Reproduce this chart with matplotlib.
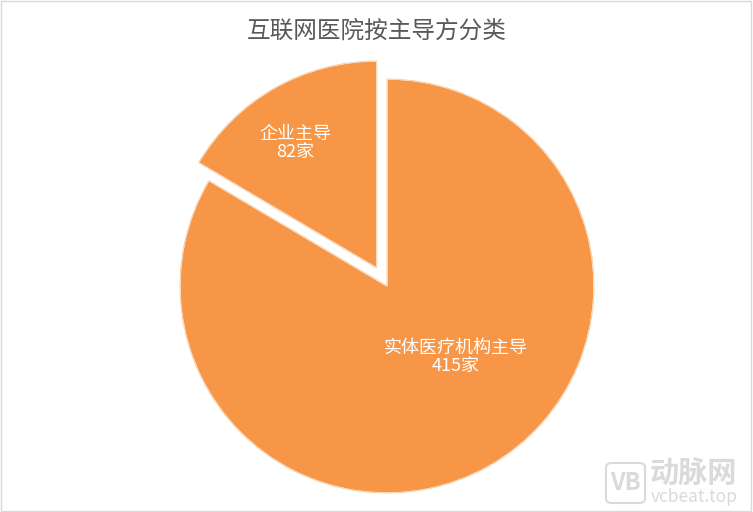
import matplotlib
matplotlib.use('Agg')
import matplotlib.pyplot as plt
from matplotlib.patches import FancyBboxPatch

plt.rcParams['font.family'] = ['Noto Sans CJK SC', 'DejaVu Sans']

title = '互联网医院按主导方分类'
names = ['实体医疗机构主导', '企业主导']
counts = [415, 82]
explode = [0, 0.1]
label_pos = [(0.33, -0.345), (-0.445, 0.69)]

fig = plt.figure(figsize=(7.53, 5.12), dpi=100)
W, H = 753, 512
cx, cy, r = 387, 286, 207
ax = fig.add_axes([(cx - r) / W, (H - cy - r) / H, 2 * r / W, 2 * r / H])

wedges, _ = ax.pie(counts, startangle=90, counterclock=False, explode=explode,
                   colors=['#F79646', '#F79646'],
                   wedgeprops=dict(edgecolor='#FBD3B1', linewidth=2.2))
for w in wedges:
    w.set_edgecolor('white')
    w.set_linewidth(1.0)
# outer thin peach outline
ax.pie(counts, startangle=90, counterclock=False, explode=explode,
       colors=['none', 'none'],
       wedgeprops=dict(edgecolor='#F9C79C', linewidth=0.6, fill=False))
ax.set_xlim(-1, 1)
ax.set_ylim(-1, 1)
ax.set_aspect('auto')
ax.axis('off')

for name, n, (x, y) in zip(names, counts, label_pos):
    ax.text(x, y, f'{name}\n{n}家', ha='center', va='center', color='white',
            fontsize=13, linespacing=1.0)

fig.text(0.5, 1 - 31 / H, title, ha='center', va='center', fontsize=17, color='#595959')

# figure border
fig.patches.append(plt.Rectangle((0.001, 0.001), 0.997, 0.997, transform=fig.transFigure,
                                 fill=False, edgecolor='#D9D9D9', linewidth=1))

# watermark
fig.patches.append(FancyBboxPatch((606 / W, 1 - 503 / H), 39 / W, 40 / H,
                                  boxstyle='round,pad=0,rounding_size=0.008',
                                  transform=fig.transFigure, fill=False,
                                  edgecolor='#DADADA', linewidth=1.5))
fig.text(625.5 / W, 1 - 483 / H, 'VB', ha='center', va='center', fontsize=17,
         color='#DADADA', fontweight='bold')
fig.text(693 / W, 1 - 474 / H, '动脉网', ha='center', va='center', fontsize=21,
         color='#DADADA', fontweight='bold')
fig.text(694 / W, 1 - 497 / H, 'vcbeat.top', ha='center', va='center', fontsize=12.5,
         color='#DADADA')

fig.savefig('out.png', dpi=100)
